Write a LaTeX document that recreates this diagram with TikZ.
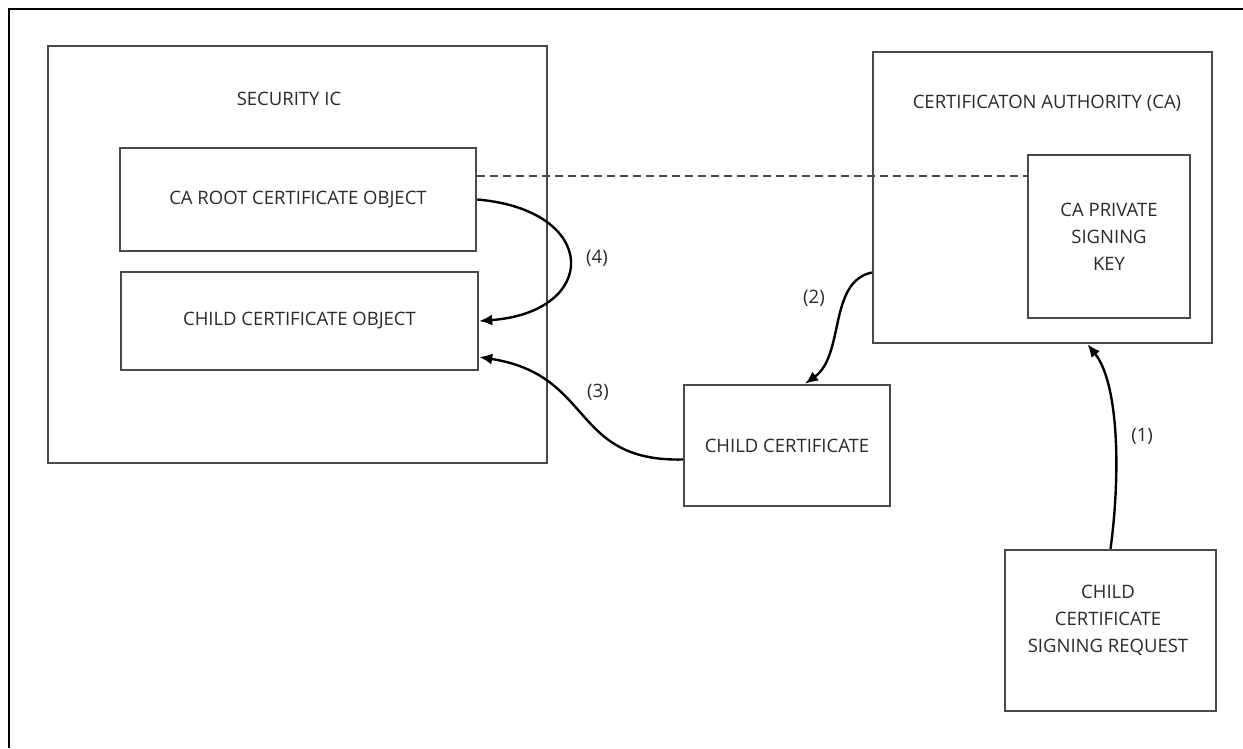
\documentclass[tikz,border=0pt]{standalone}
\usepackage{fontspec}
\setmainfont{Open Sans}
\usetikzlibrary{arrows.meta}

\definecolor{boxgray}{HTML}{4A4A4A}
\definecolor{textgray}{HTML}{2A2A2A}

\begin{document}
\begin{tikzpicture}[x=1pt, y=-1pt,
        every node/.style={font=\fontsize{18.5}{27}\selectfont, text=textgray},
        box/.style={draw=boxgray, line width=2.4pt, inner sep=0pt},
        flow/.style={-{Latex[length=13pt,width=11pt]}, line width=2.4pt},
        keyline/.style={draw=boxgray, line width=2.2pt, dash pattern=on 8pt off 5pt}]

        \useasboundingbox (0,0) rectangle (1243,748);

        % frame
        \draw[line width=2.6pt] (9,748) -- (9,9) -- (1243,9);

        % security ic
        \node[box, minimum width=499pt, minimum height=417pt] (sec) at (297.5,254.5) {};
        \node (sectitle) at (289,99) {SECURITY IC};
        \node[box, minimum width=356pt, minimum height=103pt] (root) at (298,199.5) {CA ROOT CERTIFICATE OBJECT};
        \node[box, minimum width=357pt, minimum height=98pt] (childobj) at (299.5,321) {CHILD CERTIFICATE OBJECT};

        % certification authority
        \node[box, minimum width=339pt, minimum height=291pt] (ca) at (1042.5,197.5) {};
        \node (catitle) at (1047,103) {CERTIFICATON AUTHORITY (CA)};
        \node[box, minimum width=162pt, minimum height=163pt, align=center] (key) at (1109,236.5) {CA PRIVATE\\SIGNING\\KEY};

        % certificate and request
        \node[box, minimum width=206pt, minimum height=121pt] (cc) at (787,445.5) {CHILD CERTIFICATE};
        \node[box, minimum width=211pt, minimum height=161pt] (csr) at (1110.5,630.5) {};
        \node[align=center] (csrtext) at (1108,620) {CHILD\\CERTIFICATE\\SIGNING REQUEST};

        % dashed link
        \draw[keyline] (root.north east) ++(0,29) coordinate (d1) -- (d1 -| key.west);

        % (1)
        \draw[flow] (csr.north) .. controls (1120,480) and (1120,385) .. ([xshift=45pt]ca.south)
            node [pos=0.5, right=12pt] {(1)};

        % (2)
        \draw[flow] ([yshift=-75pt]ca.west) .. controls (828,282) and (845,355) .. ([xshift=18pt]cc.north);
        \node (l2) at (814,298) {(2)};

        % (3)
        \draw[flow] ([yshift=-14pt]cc.west) .. controls (570,462) and (595,375) .. ([yshift=-36pt]childobj.east);
        \node (l3) at (598,392) {(3)};

        % (4)
        \draw[flow] (root.east) .. controls (600,210) and (600,312) .. (childobj.east);
        \node (l4) at (597,258) {(4)};
\end{tikzpicture}
\end{document}
